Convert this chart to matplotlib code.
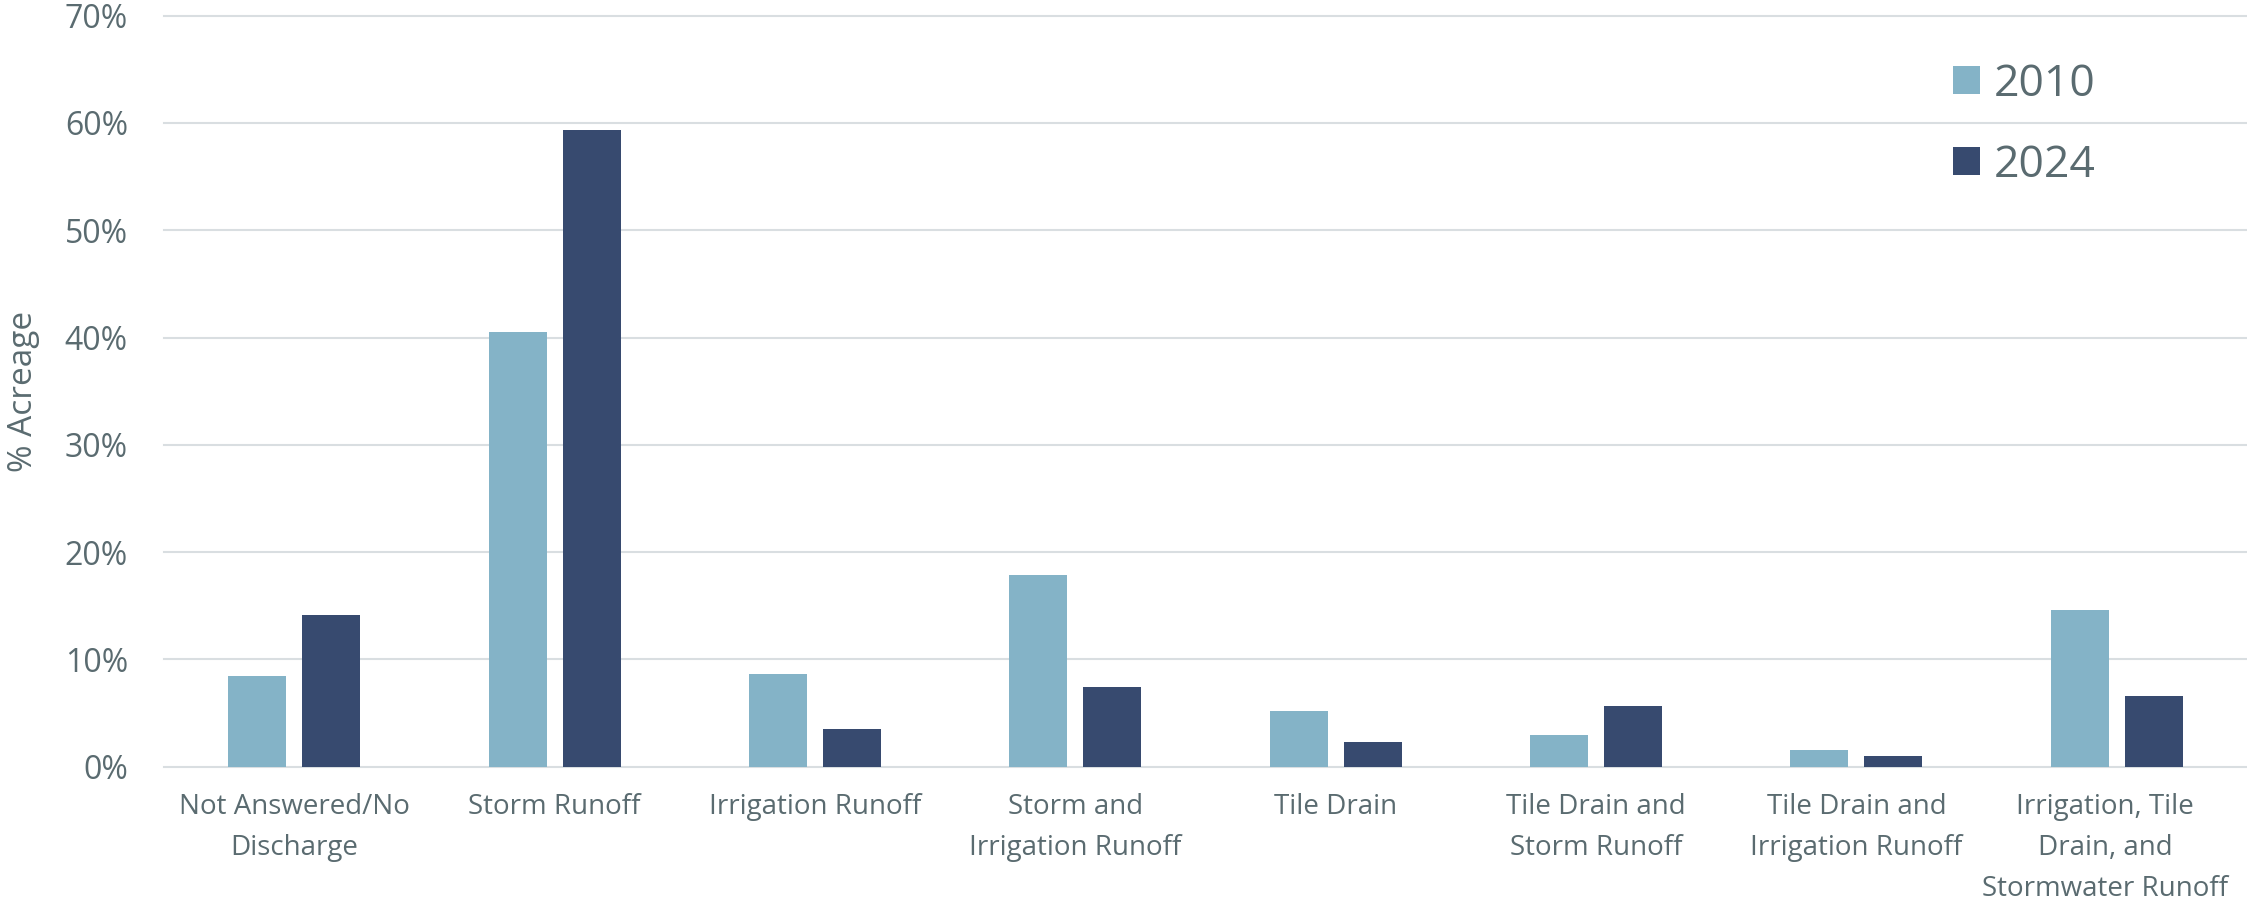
import matplotlib
matplotlib.use("Agg")
import matplotlib.pyplot as plt
import matplotlib.transforms as mtransforms
import numpy as np
from matplotlib.patches import Patch

# Data (fraction of acreage)
categories = [
    "Not Answered/No\nDischarge",
    "Storm Runoff",
    "Irrigation Runoff",
    "Storm and\nIrrigation Runoff",
    "Tile Drain",
    "Tile Drain and\nStorm Runoff",
    "Tile Drain and\nIrrigation Runoff",
    "Irrigation, Tile\nDrain, and\nStormwater Runoff",
]
share_2010 = [0.0845, 0.405, 0.0866, 0.1787, 0.0521, 0.0292, 0.0152, 0.1463]
share_2024 = [0.1411, 0.5934, 0.035, 0.074, 0.0227, 0.0568, 0.0099, 0.0655]
series_labels = ["2010", "2024"]
y_ticks = [0.0, 0.1, 0.2, 0.3, 0.4, 0.5, 0.6, 0.7]

light_blue = "#84B3C7"
dark_blue = "#374A6F"
text_grey = "#5A6B70"
grid_grey = "#D9DEE1"

plt.rcParams["font.family"] = ["Open Sans", "DejaVu Sans"]

fig = plt.figure(figsize=(22.47, 9.0), dpi=100)
ax = fig.add_axes([164 / 2247, 1 - 766.7 / 900, 1 - 164 / 2247,
                   (766.7 - 15.7) / 900])

x = np.arange(len(categories))
width = 0.223
offset = 0.142
ax.bar(x - offset, share_2010, width, color=light_blue, zorder=3)
ax.bar(x + offset, share_2024, width, color=dark_blue, zorder=3)

ax.set_xlim(-0.5, len(categories) - 0.5)
ax.set_ylim(0, 0.7)
ax.set_yticks(y_ticks)
ax.set_yticklabels([f"{v:.0%}" for v in y_ticks])
ax.set_xticks(x)
ax.set_xticklabels(categories, linespacing=1.62)

for y in y_ticks:
    ax.axhline(y, color=grid_grey, lw=1.5, zorder=1, clip_on=False)

for side in ["top", "right", "left", "bottom"]:
    ax.spines[side].set_visible(False)

ax.tick_params(axis="y", length=0, pad=26, labelsize=23, labelcolor=text_grey)
ax.tick_params(axis="x", length=0, pad=19, labelsize=20, labelcolor=text_grey)
ax.set_ylabel("% Acreage", fontsize=24, color=text_grey, labelpad=18)

# last label sits at the right edge: nudge it inward so it is not clipped
last = ax.get_xticklabels()[-1]
last.set_transform(last.get_transform()
                   + mtransforms.ScaledTranslation(-0.12, 0, fig.dpi_scale_trans))

handles = [Patch(facecolor=light_blue), Patch(facecolor=dark_blue)]
ax.legend(handles, series_labels, loc="upper left",
          bbox_to_anchor=(1953 / 2247, 1 - 62 / 900),
          bbox_transform=fig.transFigure, frameon=False, fontsize=32,
          labelcolor=text_grey, handlelength=0.61, handleheight=0.61,
          handletextpad=0.3, labelspacing=0.83, borderpad=0,
          borderaxespad=0)

fig.savefig("out.png", dpi=100)
